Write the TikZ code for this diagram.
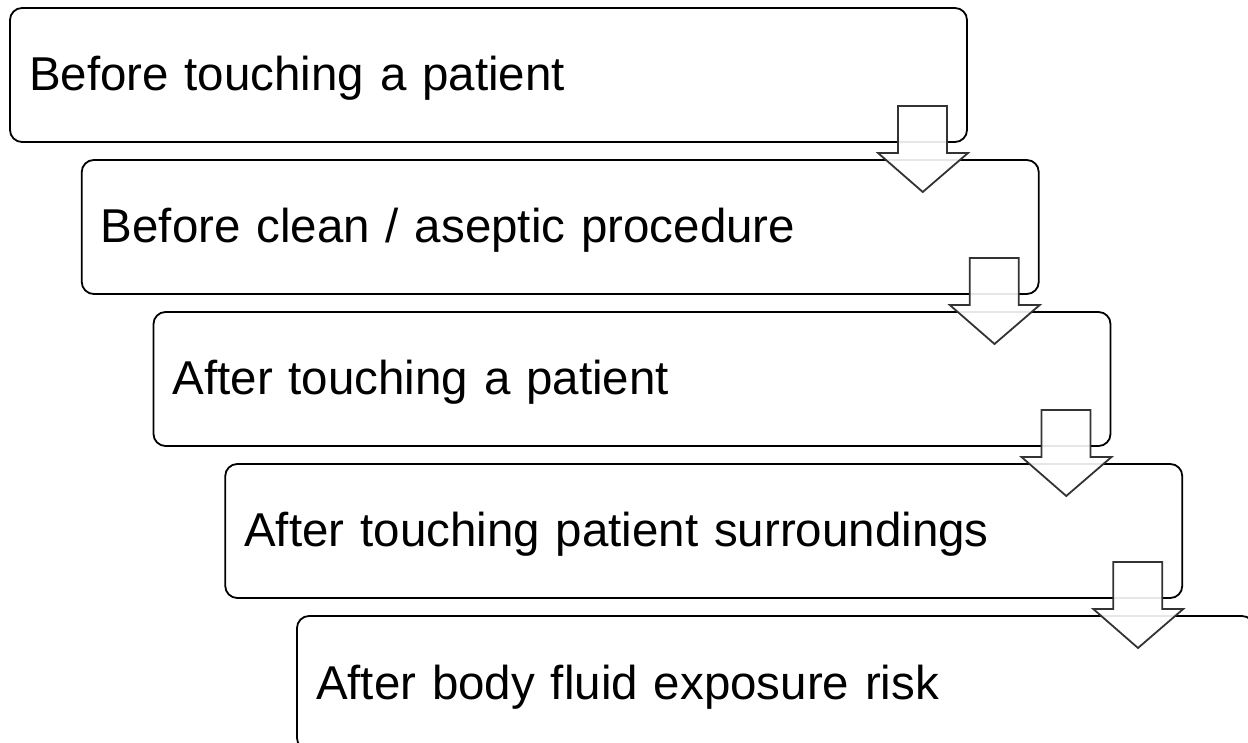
\documentclass[tikz,border=0pt]{standalone}
\usepackage{fontspec}
\setmainfont{Liberation Sans}
\usepackage{xcolor}
\colorlet{colorMoment}{black}
\colorlet{colorArrow}{black!80}
\usetikzlibrary{positioning, calc}

\begin{document}
\begin{tikzpicture}[x=1pt, y=1pt, node distance=18pt,
  every node/.style={font=\fontsize{47.5}{57}\selectfont},
  moment/.style={draw=colorMoment, line width=1.8pt, rounded corners=12pt, outer sep=0pt,
    minimum height=134pt, text width=919pt, inner xsep=19pt, inner ysep=0pt,
    align=left, text height=40pt, text depth=8pt},
  flowarrow/.style={draw=colorArrow, line width=1.8pt, fill=white, fill opacity=0.9, line join=miter}]
\useasboundingbox (0,0) rectangle (1248,742);
\clip (0,0) rectangle (1248,742);
\node[moment, anchor=north west] (m1) at (10,734) {Before touching a patient};
\node[moment, below=of m1.south west, anchor=north west, xshift=71.75pt] (m2) {Before clean / aseptic procedure};
\node[moment, below=of m2.south west, anchor=north west, xshift=71.75pt] (m3) {After touching a patient};
\node[moment, below=of m3.south west, anchor=north west, xshift=71.75pt] (m4) {After touching patient surroundings};
\node[moment, below=of m4.south west, anchor=north west, xshift=71.75pt] (m5) {After body fluid exposure risk};
% block arrows between the moments
\foreach \a/\b in {m1/m2, m2/m3, m3/m4, m4/m5}
  \draw[flowarrow] ($(\a.south east)+(-69,36)$) -- ++(49,0) -- ++(0,-47) -- ++(21,0)
    -- ($(\b.north east)+(-116,-32)$) -- ($(\a.south east)+(-89,-11)$) -- ++(20,0) -- cycle;
\end{tikzpicture}
\end{document}
